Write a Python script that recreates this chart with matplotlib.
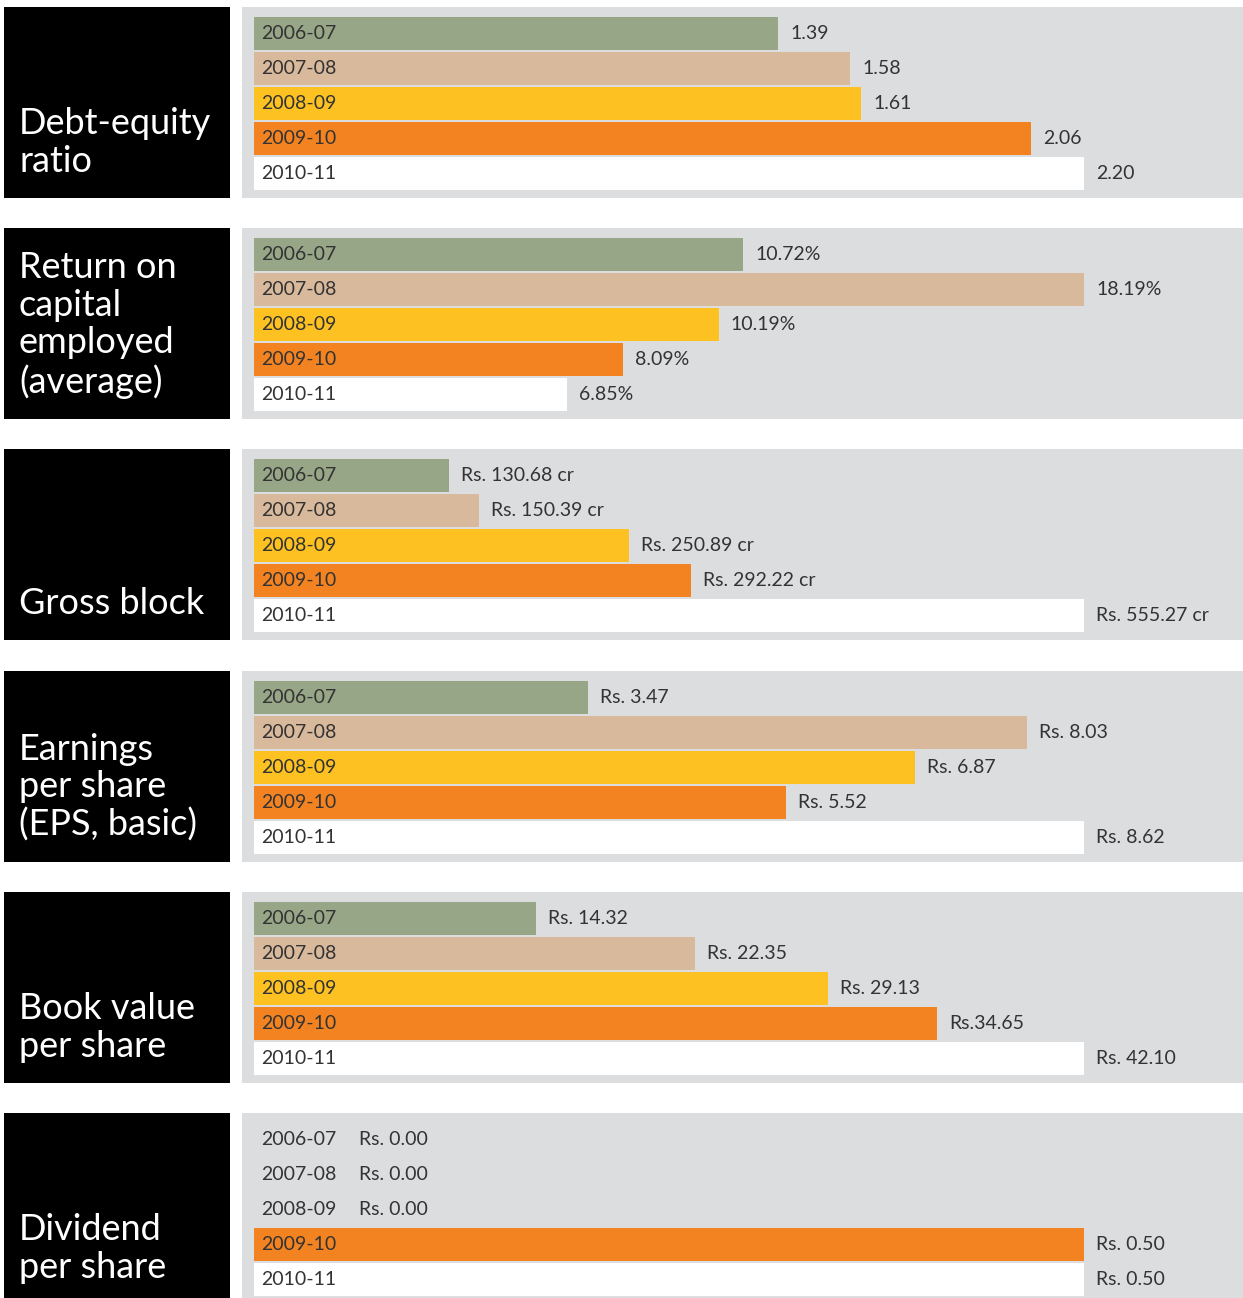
import matplotlib
matplotlib.use("Agg")
import matplotlib.pyplot as plt

plt.rcParams.update({
    "font.family": ["Lato", "DejaVu Sans"],
    "font.size": 14,
})

# ---------------------------------------------------------------------------
# Data
# ---------------------------------------------------------------------------
years = ["2006-07", "2007-08", "2008-09", "2009-10", "2010-11"]

debt_equity = [1.39, 1.58, 1.61, 2.06, 2.20]
roce = [10.72, 18.19, 10.19, 8.09, 6.85]
gross_block = [130.68, 150.39, 250.89, 292.22, 555.27]
eps = [3.47, 8.03, 6.87, 5.52, 8.62]
book_value = [14.32, 22.35, 29.13, 34.65, 42.10]
dividend = [0.00, 0.00, 0.00, 0.50, 0.50]

titles = [
    "Debt-equity\nratio",
    "Return on\ncapital\nemployed\n(average)",
    "Gross block",
    "Earnings\nper share\n(EPS, basic)",
    "Book value\nper share",
    "Dividend\nper share",
]

label_formats = [
    "{:.2f}",
    "{:.2f}%",
    "Rs. {:.2f} cr",
    "Rs. {:.2f}",
    "Rs. {:.2f}",
    "Rs. {:.2f}",
]

panels = [debt_equity, roce, gross_block, eps, book_value, dividend]

# Colours
BAR_COLORS = ["#97a687", "#d9b99b", "#fdc221", "#f38321", "#ffffff"]
PANEL_BG = "#dcdddf"
TEXT_DARK = "#333333"

# ---------------------------------------------------------------------------
# Layout (pixels)
# ---------------------------------------------------------------------------
W, H = 1243, 1298
fig = plt.figure(figsize=(W / 100, H / 100), dpi=100, facecolor="white")


def px_axes(x0, y0, w, h):
    return fig.add_axes([x0 / W, 1 - (y0 + h) / H, w / W, h / H])


panel_tops = [7, 228, 449, 671, 892, 1113]
panel_h = 191
box_x, box_w = 4, 226
grey_x, grey_w = 242, 1001
bar_x0 = 12        # bar start inside the grey panel
bar_len = 830      # length for the max value
bar_top0, bar_pitch, bar_h = 10, 35, 33

for k, (top, values, title, fmt) in enumerate(zip(panel_tops, panels, titles, label_formats)):
    # --- black title box ---
    axb = px_axes(box_x, top, box_w, panel_h)
    axb.set_facecolor("black")
    axb.set_xlim(0, box_w)
    axb.set_ylim(panel_h, 0)
    axb.set_xticks([])
    axb.set_yticks([])
    for s in axb.spines.values():
        s.set_visible(False)
    axb.text(15, panel_h - 20, title, color="white", fontsize=26,
             ha="left", va="bottom", linespacing=1.17)

    # --- grey bar panel ---
    ax = px_axes(grey_x, top, grey_w, panel_h)
    ax.set_facecolor(PANEL_BG)
    vmax = max(values)
    scale = vmax / bar_len
    ax.set_xlim(-bar_x0 * scale, (grey_w - bar_x0) * scale)
    ax.set_ylim(panel_h * 1.0, 0)
    ax.set_xticks([])
    ax.set_yticks([])
    for s in ax.spines.values():
        s.set_visible(False)

    ypos = [bar_top0 + bar_pitch * i for i in range(len(years))]
    ax.barh(ypos, values, height=bar_h, align="edge", color=BAR_COLORS,
            edgecolor="none")

    for i, (y, v) in enumerate(zip(ypos, values)):
        yc = y + bar_h / 2
        ax.text(7 * scale, yc, years[i], color=TEXT_DARK, fontsize=14,
                ha="left", va="center")
        label = fmt.format(v)
        if k == 4 and i == 3:
            label = label.replace("Rs. ", "Rs.")
        xl = max(v + 12 * scale, 105 * scale)
        ax.text(xl, yc, label, color=TEXT_DARK, fontsize=14,
                ha="left", va="center")

plt.savefig("out.png", dpi=100, facecolor="white")
plt.close()
